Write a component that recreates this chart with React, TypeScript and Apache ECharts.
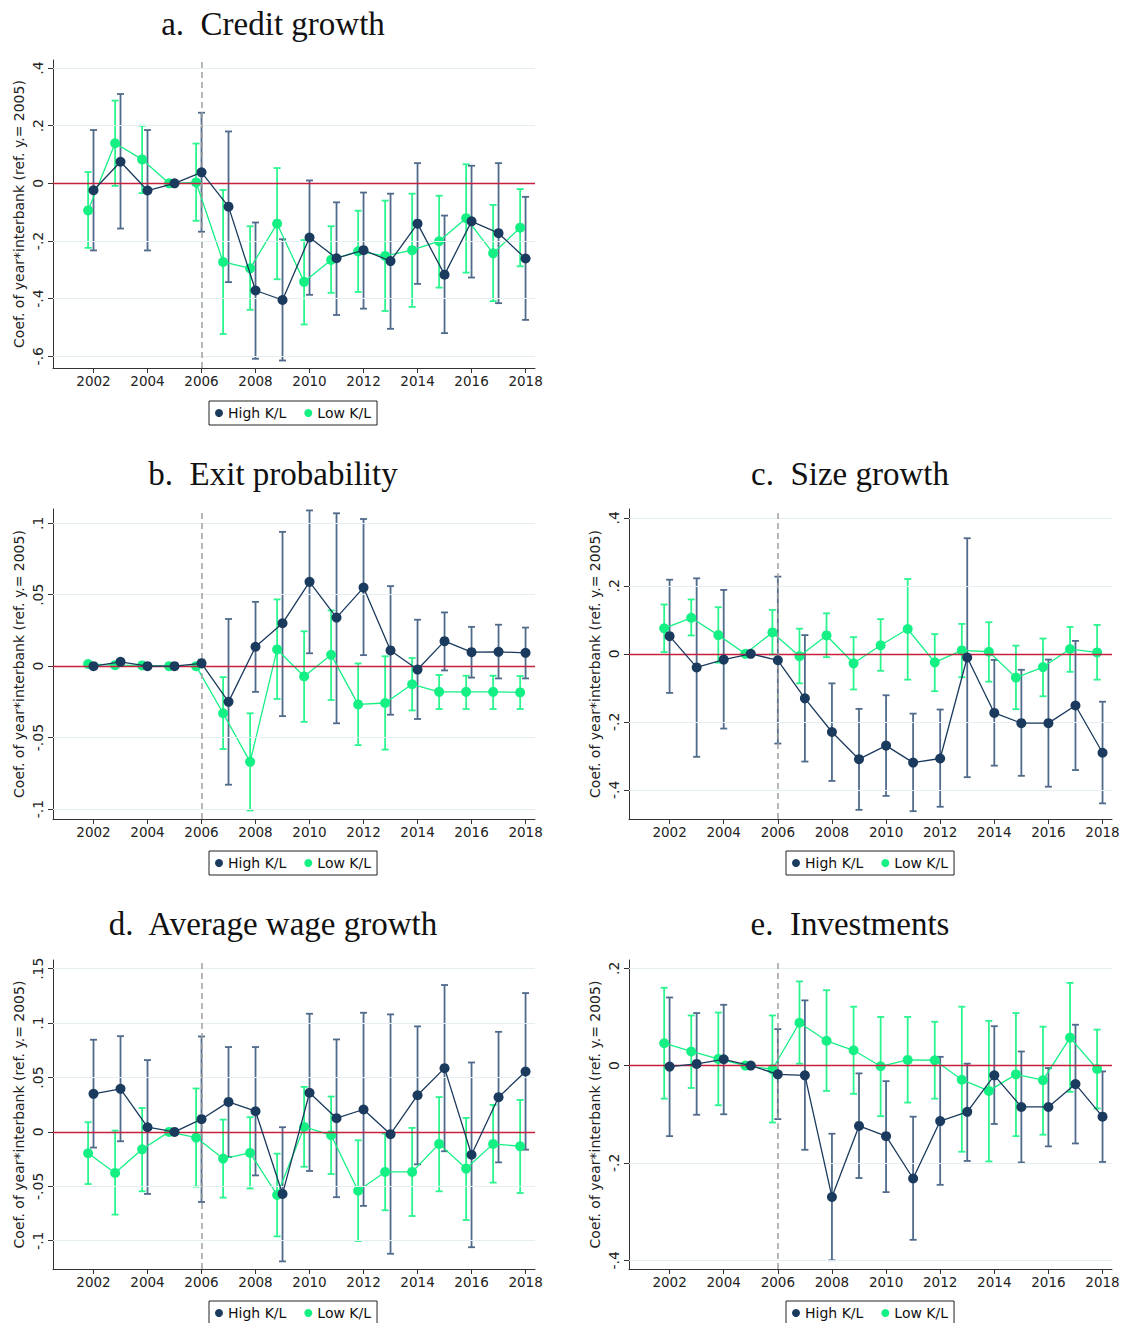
import React, { useEffect, useRef } from "react";
import * as echarts from "echarts";

// ---------- data ----------
const years: number[] = [2002, 2003, 2004, 2005, 2006, 2007, 2008, 2009, 2010, 2011, 2012, 2013, 2014, 2015, 2016, 2017, 2018];
const xTicks: number[] = [2002, 2004, 2006, 2008, 2010, 2012, 2014, 2016, 2018];
const seriesNames: string[] = ["High K/L", "Low K/L"];

// a. Credit growth
const aHigh = [-0.024, 0.075, -0.025, 0, 0.038, -0.081, -0.372, -0.405, -0.188, -0.26, -0.232, -0.27, -0.14, -0.317, -0.132, -0.173, -0.261];
const aHighHi = [0.185, 0.31, 0.185, null, 0.245, 0.18, -0.136, -0.194, 0.01, -0.066, -0.032, -0.036, 0.07, -0.112, 0.061, 0.07, -0.047];
const aHighLo = [-0.233, -0.157, -0.233, null, -0.168, -0.343, -0.609, -0.615, -0.387, -0.457, -0.435, -0.505, -0.349, -0.52, -0.327, -0.416, -0.474];
const aLow = [-0.094, 0.139, 0.083, 0, 0.003, -0.273, -0.295, -0.14, -0.342, -0.266, -0.236, -0.252, -0.232, -0.201, -0.121, -0.243, -0.154];
const aLowHi = [0.039, 0.287, 0.2, null, 0.138, -0.023, -0.149, 0.053, -0.197, -0.149, -0.095, -0.06, -0.036, -0.043, 0.066, -0.075, -0.02];
const aLowLo = [-0.224, -0.009, -0.034, null, -0.13, -0.523, -0.439, -0.333, -0.49, -0.38, -0.377, -0.443, -0.429, -0.362, -0.31, -0.409, -0.288];
const aTicks = [-0.6, -0.4, -0.2, 0, 0.2, 0.4];

// b. Exit probability
const bHigh = [0, 0.003, 0, 0, 0.002, -0.025, 0.0136, 0.03, 0.059, 0.034, 0.055, 0.011, -0.0024, 0.0175, 0.0098, 0.01, 0.0093];
const bHighHi = [0.0015, 0.0045, 0.001, null, 0.0045, 0.033, 0.045, 0.094, 0.109, 0.107, 0.103, 0.056, 0.0325, 0.0376, 0.0275, 0.029, 0.027];
const bHighLo = [-0.0015, 0.0015, -0.001, null, -0.0005, -0.083, -0.018, -0.035, 0.009, -0.04, 0.0077, -0.034, -0.037, -0.003, -0.008, -0.0086, -0.0086];
const bLow = [0.0015, 0.0007, 0.0005, 0, 0, -0.033, -0.067, 0.0117, -0.0072, 0.0079, -0.0268, -0.0258, -0.0127, -0.018, -0.018, -0.018, -0.0184];
const bLowHi = [0.0025, 0.0015, 0.001, null, 0.0005, -0.0077, -0.033, 0.0467, 0.0244, 0.039, 0.0019, 0.0069, 0.0057, -0.0062, -0.0067, -0.0067, -0.0069];
const bLowLo = [0.0005, 0, 0, null, -0.0005, -0.058, -0.101, -0.023, -0.039, -0.0237, -0.0553, -0.0584, -0.031, -0.03, -0.03, -0.03, -0.03];
const bTicks = [-0.1, -0.05, 0, 0.05, 0.1];

// c. Size growth
const cHigh = [0.052, -0.04, -0.017, 0, -0.019, -0.131, -0.23, -0.31, -0.27, -0.32, -0.308, -0.011, -0.174, -0.204, -0.204, -0.152, -0.291];
const cHighHi = [0.218, 0.222, 0.188, null, 0.227, 0.055, -0.087, -0.162, -0.122, -0.176, -0.164, 0.34, -0.018, -0.047, -0.017, 0.038, -0.141];
const cHighLo = [-0.115, -0.303, -0.22, null, -0.264, -0.317, -0.374, -0.459, -0.418, -0.463, -0.45, -0.363, -0.329, -0.359, -0.391, -0.342, -0.44];
const cLow = [0.075, 0.106, 0.055, 0, 0.063, -0.007, 0.054, -0.028, 0.025, 0.073, -0.025, 0.01, 0.006, -0.07, -0.039, 0.014, 0.004];
const cLowHi = [0.145, 0.16, 0.137, null, 0.129, 0.074, 0.119, 0.049, 0.102, 0.22, 0.058, 0.088, 0.093, 0.024, 0.045, 0.079, 0.085];
const cLowLo = [0.005, 0.054, -0.026, null, -0.002, -0.087, -0.01, -0.105, -0.05, -0.076, -0.11, -0.069, -0.082, -0.163, -0.125, -0.053, -0.076];
const cTicks = [-0.4, -0.2, 0, 0.2, 0.4];

// d. Average wage growth
const dHigh = [0.035, 0.0396, 0.0043, 0, 0.0117, 0.0276, 0.019, -0.057, 0.036, 0.0126, 0.0206, -0.0021, 0.0337, 0.0586, -0.021, 0.0319, 0.0555];
const dHighHi = [0.0847, 0.088, 0.066, null, 0.0877, 0.078, 0.078, 0.0043, 0.1086, 0.085, 0.1095, 0.108, 0.097, 0.135, 0.0638, 0.092, 0.1276];
const dHighLo = [-0.0144, -0.0086, -0.057, null, -0.0644, -0.023, -0.04, -0.119, -0.0359, -0.06, -0.068, -0.112, -0.0298, -0.0178, -0.106, -0.028, -0.0163];
const dLow = [-0.0196, -0.0377, -0.016, 0, -0.0052, -0.0245, -0.0193, -0.058, 0.0046, -0.003, -0.054, -0.0368, -0.0368, -0.011, -0.0337, -0.011, -0.0132];
const dLowHi = [0.0089, 0.0012, 0.022, null, 0.0399, 0.0113, 0.0135, -0.02, 0.0414, 0.0325, -0.0077, -0.0015, 0.0037, 0.032, 0.0129, 0.0248, 0.0294];
const dLowLo = [-0.0479, -0.076, -0.0546, null, -0.0503, -0.0604, -0.052, -0.096, -0.032, -0.0387, -0.1003, -0.072, -0.0773, -0.0546, -0.081, -0.0466, -0.0561];
const dTicks = [-0.1, -0.05, 0, 0.05, 0.1, 0.15];

// e. Investments
const eHigh = [-0.002, 0.0034, 0.013, 0, -0.018, -0.02, -0.27, -0.124, -0.145, -0.232, -0.114, -0.095, -0.02, -0.085, -0.085, -0.038, -0.105];
const eHighHi = [0.14, 0.108, 0.125, null, 0.075, 0.134, -0.14, -0.016, -0.032, -0.105, 0.018, 0.004, 0.081, 0.029, -0.005, 0.084, -0.012];
const eHighLo = [-0.145, -0.101, -0.1, null, -0.11, -0.173, -0.4, -0.231, -0.26, -0.358, -0.245, -0.196, -0.12, -0.199, -0.166, -0.16, -0.198];
const eLow = [0.046, 0.029, 0.0137, 0, -0.0075, 0.088, 0.051, 0.0315, -0.0014, 0.0116, 0.011, -0.029, -0.052, -0.018, -0.03, 0.0575, -0.007];
const eLowHi = [0.16, 0.103, 0.109, null, 0.103, 0.173, 0.155, 0.121, 0.1, 0.1, 0.09, 0.121, 0.092, 0.108, 0.08, 0.17, 0.074];
const eLowLo = [-0.068, -0.046, -0.0815, null, -0.117, 0.004, -0.052, -0.058, -0.104, -0.076, -0.068, -0.177, -0.197, -0.145, -0.142, -0.054, -0.088];
const eTicks = [-0.4, -0.2, 0, 0.2];

// ---------- layout / style ----------
const DARK = "#1a3a5e";
const DARK_BAR = "#4f6a8a";
const GREEN = "#14f084";
const GREEN_BAR = "#2af58e";
const SANS = "DejaVu Sans";

type Panel = {
  title: string;
  high: number[]; highHi: (number | null)[]; highLo: (number | null)[];
  low: number[]; lowHi: (number | null)[]; lowLo: (number | null)[];
  ticks: number[]; ymin: number; ymax: number;
  left: number; top: number; width: number; height: number;
  titleX: number; titleY: number; legendLeft: number; legendTop: number;
};

const panels: Panel[] = [
  { title: "a.  Credit growth", high: aHigh, highHi: aHighHi, highLo: aHighLo, low: aLow, lowHi: aLowHi, lowLo: aLowLo, ticks: aTicks, ymin: -0.641, ymax: 0.428, left: 53, top: 60, width: 482, height: 308, titleX: 273, titleY: 24, legendLeft: 209, legendTop: 401 },
  { title: "b.  Exit probability", high: bHigh, highHi: bHighHi, highLo: bHighLo, low: bLow, lowHi: bLowHi, lowLo: bLowLo, ticks: bTicks, ymin: -0.107, ymax: 0.11, left: 53, top: 509, width: 482, height: 310, titleX: 273, titleY: 474, legendLeft: 209, legendTop: 851 },
  { title: "c.  Size growth", high: cHigh, highHi: cHighHi, highLo: cHighLo, low: cLow, lowHi: cLowHi, lowLo: cLowLo, ticks: cTicks, ymin: -0.486, ymax: 0.426, left: 629, top: 509, width: 483, height: 310, titleX: 850, titleY: 474, legendLeft: 786, legendTop: 851 },
  { title: "d.  Average wage growth", high: dHigh, highHi: dHighHi, highLo: dHighLo, low: dLow, lowHi: dLowHi, lowLo: dLowLo, ticks: dTicks, ymin: -0.126, ymax: 0.158, left: 53, top: 960, width: 482, height: 309, titleX: 273, titleY: 924, legendLeft: 209, legendTop: 1301 },
  { title: "e.  Investments", high: eHigh, highHi: eHighHi, highLo: eHighLo, low: eLow, lowHi: eLowHi, lowLo: eLowLo, ticks: eTicks, ymin: -0.418, ymax: 0.217, left: 629, top: 960, width: 483, height: 309, titleX: 850, titleY: 924, legendLeft: 786, legendTop: 1301 },
];

const fmt = (v: number) => {
  const s = String(Number(Number(v).toFixed(4)));
  return s.replace(/^(-?)0\./, "$1.");
};

const errorBarRender = (color: string) => (params: any, api: any) => {
  const x = api.value(0);
  const lo = api.value(1);
  const hi = api.value(2);
  const p1 = api.coord([x, hi]);
  const p2 = api.coord([x, lo]);
  const w = 3.5;
  const st = { stroke: color, lineWidth: 1.8 };
  return {
    type: "group",
    children: [
      { type: "line", shape: { x1: p1[0], y1: p1[1], x2: p2[0], y2: p2[1] }, style: st },
      { type: "line", shape: { x1: p1[0] - w, y1: p1[1], x2: p1[0] + w, y2: p1[1] }, style: st },
      { type: "line", shape: { x1: p2[0] - w, y1: p2[1], x2: p2[0] + w, y2: p2[1] }, style: st },
    ],
  };
};

function buildOption() {
  const grid: any[] = [];
  const xAxis: any[] = [];
  const yAxis: any[] = [];
  const series: any[] = [];
  const legend: any[] = [];
  const graphic: any[] = [];

  panels.forEach((p, i) => {
    grid.push({ left: p.left, top: p.top, width: p.width, height: p.height, containLabel: false });
    xAxis.push({
      type: "value", gridIndex: i, min: 2000.5, max: 2018.35,
      axisLine: { show: true, onZero: false, lineStyle: { color: "#333", width: 1 } },
      axisTick: { show: true, length: 5, customValues: xTicks, lineStyle: { color: "#333" } },
      axisLabel: { customValues: xTicks, fontSize: 13.5, color: "#222", fontFamily: SANS, margin: 6, formatter: (v: number) => String(v) },
      splitLine: { show: false },
    });
    yAxis.push({
      type: "value", gridIndex: i, min: p.ymin, max: p.ymax,
      name: "Coef. of year*interbank (ref. y.= 2005)", nameLocation: "middle", nameGap: 27, nameRotate: 90,
      nameTextStyle: { fontSize: 14, color: "#222", fontFamily: SANS },
      axisLine: { show: true, onZero: false, lineStyle: { color: "#333", width: 1 } },
      axisTick: { show: true, length: 5, customValues: p.ticks, lineStyle: { color: "#333" } },
      axisLabel: { customValues: p.ticks, rotate: 90, fontSize: 14, color: "#222", fontFamily: SANS, margin: 8, formatter: fmt },
      splitLine: { show: false },
    });

    // reference lines (grid lines, zero line, 2006 line)
    const mlData: any[] = p.ticks.filter((t) => t !== 0).map((t) => ({ yAxis: t, lineStyle: { color: "#e5eef0", width: 1, type: "solid" } }));
    mlData.push({ yAxis: 0, lineStyle: { color: "#c8203e", width: 1.4, type: "solid" } });
    mlData.push({ xAxis: 2006, lineStyle: { color: "#a0a0a0", width: 1.5, type: [6, 4] } });
    series.push({
      type: "line", name: "ref" + i, xAxisIndex: i, yAxisIndex: i, data: [[2005, 0]],
      showSymbol: false, symbol: "none", lineStyle: { opacity: 0 }, z: 1, silent: true,
      markLine: { silent: true, symbol: ["none", "none"], label: { show: false }, animation: false, data: mlData },
    });

    const greenBars = years.map((y, k) => (p.lowHi[k] == null ? null : [y - 0.2, p.lowLo[k], p.lowHi[k]])).filter((d) => d != null);
    const darkBars = years.map((y, k) => (p.highHi[k] == null ? null : [y, p.highLo[k], p.highHi[k]])).filter((d) => d != null);

    series.push({
      type: "custom", name: "ciLow" + i, xAxisIndex: i, yAxisIndex: i, z: 2, silent: true,
      renderItem: errorBarRender(GREEN_BAR), data: greenBars, encode: { x: 0, y: [1, 2] },
    });
    series.push({
      type: "custom", name: "ciHigh" + i, xAxisIndex: i, yAxisIndex: i, z: 3, silent: true,
      renderItem: errorBarRender(DARK_BAR), data: darkBars, encode: { x: 0, y: [1, 2] },
    });
    series.push({
      type: "line", name: seriesNames[1], xAxisIndex: i, yAxisIndex: i, z: 4,
      data: years.map((y, k) => [y - 0.2, p.low[k]]),
      symbol: "circle", symbolSize: 10, showSymbol: true,
      itemStyle: { color: GREEN }, lineStyle: { color: GREEN, width: 1.3 },
    });
    series.push({
      type: "line", name: seriesNames[0], xAxisIndex: i, yAxisIndex: i, z: 5,
      data: years.map((y, k) => [y, p.high[k]]),
      symbol: "circle", symbolSize: 10, showSymbol: true,
      itemStyle: { color: DARK }, lineStyle: { color: DARK, width: 1.3 },
    });

    legend.push({
      data: seriesNames, left: p.legendLeft, top: p.legendTop, orient: "horizontal",
      icon: "circle", itemWidth: 8, itemHeight: 8, itemGap: 18, selectedMode: false,
      padding: [5, 6, 5, 6], borderColor: "#222", borderWidth: 1,
      textStyle: { fontSize: 14, color: "#111", fontFamily: SANS },
    });

    graphic.push({
      type: "text", x: p.titleX, y: p.titleY,
      style: {
        text: p.title, fill: "#111", fontSize: 33, fontFamily: "Liberation Serif",
        textAlign: "center", textVerticalAlign: "middle", align: "center", verticalAlign: "middle",
      },
    });
  });

  return {
    animation: false,
    backgroundColor: "#ffffff",
    grid, xAxis, yAxis, series, legend, graphic,
  };
}

export default function App() {
  const ref = useRef<HTMLDivElement>(null);
  useEffect(() => {
    if (!ref.current) return;
    const chart = echarts.init(ref.current, undefined, { renderer: "svg" });
    chart.setOption(buildOption() as any);
    return () => chart.dispose();
  }, []);
  return (
    <div
      ref={ref}
      style={{ position: "absolute", left: 0, top: 0, width: 1123, height: 1323, background: "#fff" }}
    />
  );
}
